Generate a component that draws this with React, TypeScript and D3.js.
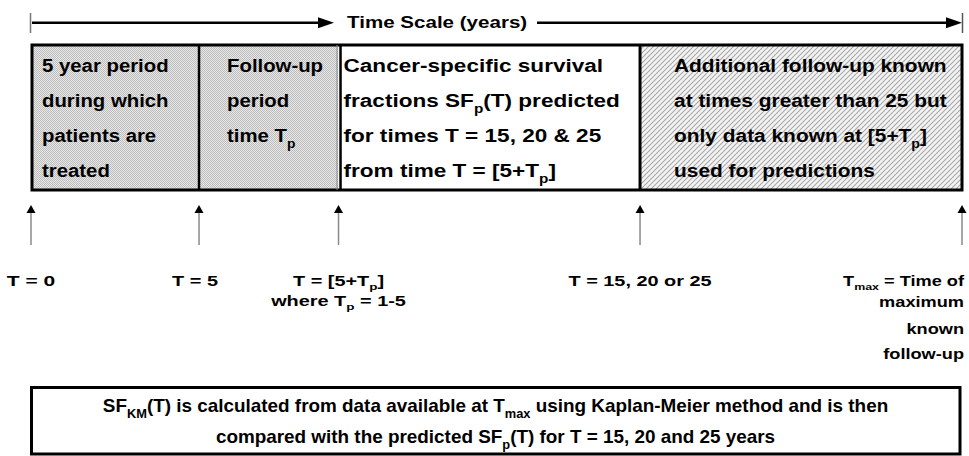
import React from 'react';
import * as d3 from 'd3';

// Timeline segments (fractions of the full follow-up span) and their captions
const segmentEdges = [0, 0.1796, 0.3296, 0.6538, 1];
const segmentFills = ['url(#stipple)', 'url(#stipple)', '#ffffff', 'url(#hatch)'];
const segmentPad = [10, 28, 5, 34];
const segmentStretch = [1.1, 1.1, 1.22, 1.13];
const segmentText = [
  ['5 year period', 'during which', 'patients are', 'treated'],
  ['Follow-up', 'period', 'time T_{p}'],
  ['Cancer-specific survival', 'fractions SF_{p}(T) predicted', 'for times T = 15, 20 & 25', 'from time T = [5+T_{p}]'],
  ['Additional follow-up known', 'at times greater than 25 but', 'only data known at [5+T_{p}]', 'used for predictions'],
];

// time markers under the box (one per segment edge)
const markerLabels = [
  ['T = 0'],
  ['T = 5'],
  ['T = [5+T_{p}]', 'where T_{p} = 1-5'],
  ['T = 15, 20 or 25'],
  ['T_{max} = Time of', 'maximum', 'known', 'follow-up'],
];
const tmaxLineY = [286, 307, 334, 359];

const headerText = 'Time Scale (years)';
const summaryLines = [
  'SF_{KM}(T) is calculated from data available at T_{max} using Kaplan-Meier method and is then',
  'compared with the predicted SF_{p}(T) for T = 15, 20 and 25 years',
];

const W = 969;
const H = 456;
const FONT = '"Liberation Sans", Arial, Helvetica, sans-serif';

type Part = { t: string; sub: boolean };
const parse = (s: string): Part[] => {
  const out: Part[] = [];
  const re = /_\{([^}]*)\}/g;
  let last = 0;
  let m;
  while ((m = re.exec(s))) {
    if (m.index > last) out.push({ t: s.slice(last, m.index), sub: false });
    out.push({ t: m[1], sub: true });
    last = m.index + m[0].length;
  }
  if (last < s.length) out.push({ t: s.slice(last), sub: false });
  return out;
};

const Label = ({ x, y, text, size, sx = 1, anchor = 'start', weight = 'bold' }: any) => {
  const parts = parse(text);
  const shift = size * 0.32;
  let down = false;
  return (
    <text
      transform={`translate(${x},${y}) scale(${sx},1)`}
      textAnchor={anchor}
      fontSize={size}
      fontFamily={FONT}
      fontWeight={weight}
      fill="#000"
    >
      {parts.map((p, i) => {
        let dy = 0;
        if (p.sub && !down) { dy = shift; down = true; }
        else if (!p.sub && down) { dy = -shift; down = false; }
        return (
          <tspan key={i} dy={dy || undefined} fontSize={p.sub ? size * 0.68 : undefined}>
            {p.t}
          </tspan>
        );
      })}
    </text>
  );
};

export default function App() {
  const x = d3.scaleLinear().domain([0, 1]).range([32, 962]);
  const boxTop = 45;
  const boxBottom = 190;
  const rowY = d3.scaleLinear().domain([0, 1]).range([72, 107]);
  const edgesPx = segmentEdges.map(x);

  const headY = 22.7;
  const arrowTipY = 205;
  const arrowBaseY = 213;
  const arrowEndY = 245;
  const labelY = d3.scaleLinear().domain([0, 1]).range([286, 306]);

  return (
    <svg width={W} height={H} style={{ position: 'absolute', left: 0, top: 0, background: '#fff' }}>
      <defs>
        <pattern id="stipple" width={2} height={2} patternUnits="userSpaceOnUse">
          <rect width={2} height={2} fill="#e8e8e8" />
          <rect width={1} height={1} fill="#bcbcbc" />
          <rect x={1} y={1} width={1} height={1} fill="#bcbcbc" />
        </pattern>
        <pattern id="hatch" width={5} height={5} patternUnits="userSpaceOnUse">
          <rect width={5} height={5} fill="#f4f4f4" />
          <path d="M-1,6 L6,-1 M-1,1 L1,-1 M4,6 L6,4" stroke="#a8a8a8" strokeWidth={1.1} />
        </pattern>
      </defs>

      <rect width={W} height={H} fill="#fff" />

      {/* time scale header arrow */}
      <line x1={30.5} x2={30.5} y1={13} y2={33} stroke="#777" strokeWidth={1.5} />
      <line x1={962.5} x2={962.5} y1={13} y2={33} stroke="#555" strokeWidth={1.5} />
      <line x1={32} x2={320} y1={headY} y2={headY} stroke="#000" strokeWidth={2.5} />
      <path d={`M318,${headY - 5.5} L334,${headY} L318,${headY + 5.5} Z`} fill="#000" />
      <line x1={537} x2={948} y1={headY} y2={headY} stroke="#000" strokeWidth={2.5} />
      <path d={`M946,${headY - 5.5} L962,${headY} L946,${headY + 5.5} Z`} fill="#000" />
      <Label x={347} y={27.5} text={headerText} size={17} sx={1.21} />

      {/* segments */}
      {segmentText.map((lines, i) => (
        <g key={i}>
          <rect
            x={edgesPx[i]}
            y={boxTop}
            width={edgesPx[i + 1] - edgesPx[i]}
            height={boxBottom - boxTop}
            fill={segmentFills[i]}
          />
          {lines.map((ln, j) => (
            <Label key={j} x={edgesPx[i] + segmentPad[i]} y={rowY(j)} text={ln} size={18.5} sx={segmentStretch[i]} />
          ))}
        </g>
      ))}
      <rect x={edgesPx[0]} y={boxTop} width={edgesPx[4] - edgesPx[0]} height={boxBottom - boxTop} fill="none" stroke="#000" strokeWidth={3} />
      <line x1={edgesPx[1]} x2={edgesPx[1]} y1={boxTop} y2={boxBottom} stroke="#000" strokeWidth={2.5} />
      <line x1={edgesPx[2] - 1.5} x2={edgesPx[2] - 1.5} y1={boxTop} y2={boxBottom} stroke="#888" strokeWidth={1} />
      <line x1={edgesPx[2] + 2} x2={edgesPx[2] + 2} y1={boxTop} y2={boxBottom} stroke="#000" strokeWidth={2.5} />
      <line x1={edgesPx[3]} x2={edgesPx[3]} y1={boxTop} y2={boxBottom} stroke="#000" strokeWidth={3} />

      {/* markers */}
      {markerLabels.map((lines, i) => {
        const mx = i === 0 ? edgesPx[0] - 1 : edgesPx[i];
        const last = i === markerLabels.length - 1;
        return (
          <g key={i}>
            <line x1={mx} x2={mx} y1={arrowBaseY - 1} y2={arrowEndY} stroke="#8a8a8a" strokeWidth={1.5} />
            <path d={`M${mx - 4.5},${arrowBaseY} L${mx},${arrowTipY} L${mx + 4.5},${arrowBaseY} Z`} fill="#000" />
            {lines.map((ln, j) => (
              <Label
                key={j}
                x={last ? 964 : i === 1 ? mx - 4 : mx}
                y={last ? tmaxLineY[j] : labelY(j)}
                text={ln}
                size={14}
                sx={last ? 1.3 : i === 0 ? 1.5 : 1.42}
                anchor={last ? 'end' : 'middle'}
              />
            ))}
          </g>
        );
      })}

      {/* summary box */}
      <rect x={31.5} y={387.5} width={928.5} height={66.5} fill="#fff" stroke="#000" strokeWidth={3} />
      {summaryLines.map((ln, i) => (
        <Label key={i} x={495.5} y={412 + i * 31} text={ln} size={18} sx={1.05} anchor="middle" />
      ))}
    </svg>
  );
}
